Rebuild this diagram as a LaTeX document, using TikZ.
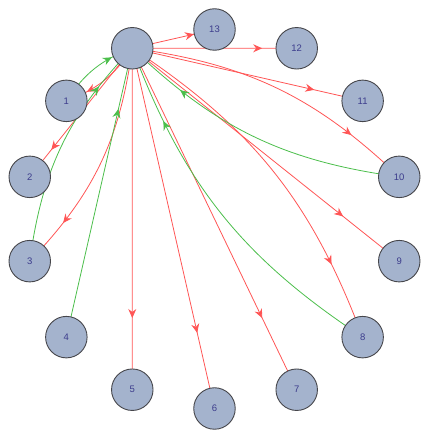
\documentclass[tikz,border=0pt]{standalone}
\usepackage{fontspec}
\setmainfont{Liberation Sans}
\usetikzlibrary{arrows.meta,decorations.markings,backgrounds}
\definecolor{vfill}{RGB}{164,179,205}
\definecolor{vline}{RGB}{70,70,75}
\definecolor{vtext}{RGB}{60,60,140}
\definecolor{ered}{RGB}{255,85,85}
\definecolor{egreen}{RGB}{75,190,75}
\begin{document}
\begin{tikzpicture}[x=1pt,y=1pt,
  vtx/.style={circle,draw=vline,fill=vfill,line width=0.9pt,minimum size=41.5pt,inner sep=0pt,text=vtext,font=\fontsize{9.5}{11}\selectfont},
  redge/.style={color=ered,line width=0.8pt,postaction={decorate},
    decoration={markings,mark=at position #1 with {\arrow{Stealth[length=9pt,width=8pt,inset=3pt]}}}},
  gedge/.style={color=egreen,line width=0.8pt,postaction={decorate},
    decoration={markings,mark=at position #1 with {\arrow{Stealth[length=9pt,width=8pt,inset=3pt]}}}}
]
\useasboundingbox (0,0) rectangle (430,439);
\node[vtx] (c) at ([shift={(115.714:189.5)}]214.5,220) {};
\foreach \k in {1,...,13}
  \node[vtx] (n\k) at ([shift={({115.714+25.714*\k}:189.5)}]214.5,220) {\k};
\begin{scope}[on background layer]
  \foreach \k in {2,5,6,7,9,11,12}
    \draw[redge=0.79] (c.center) -- (n\k.center);
  \draw[redge=0.75] (c.center) -- (n13.center);
  \draw[redge=0.74] (c.center) to[bend left=18] (n1.center);
  \foreach \k in {3,8,10}
    \draw[redge=0.79] (c.center) to[bend left=18] (n\k.center);
  \draw[gedge=0.74] (n1.center) to[bend left=18] (c.center);
  \foreach \k in {3,8,10}
    \draw[gedge=0.79] (n\k.center) to[bend left=18] (c.center);
  \draw[gedge=0.79] (n4.center) -- (c.center);
\end{scope}
\end{tikzpicture}
\end{document}
